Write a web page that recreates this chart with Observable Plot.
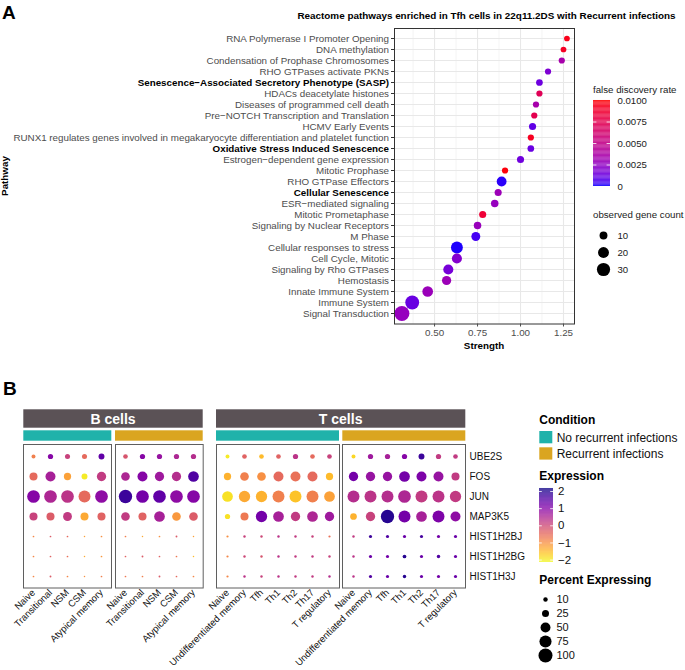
<!DOCTYPE html>
<html><head><meta charset="utf-8">
<script src="https://cdn.jsdelivr.net/npm/d3@7"></script>
<script src="https://cdn.jsdelivr.net/npm/@observablehq/plot@0.6"></script>
<style>
body{margin:0;background:#fff;}
#root{position:relative;width:685px;height:670px;overflow:hidden;font-family:"Liberation Sans",Arial,Helvetica,sans-serif;}
#root svg{overflow:visible;background:transparent !important;position:absolute;}
</style></head><body><div id="root"></div>
<script>
const FONT = '"Liberation Sans", Arial, Helvetica, sans-serif';

// ---------------- Panel A data ----------------
const pathways = [
 "RNA Polymerase I Promoter Opening",
 "DNA methylation",
 "Condensation of Prophase Chromosomes",
 "RHO GTPases activate PKNs",
 "Senescence\u2212Associated Secretory Phenotype (SASP)",
 "HDACs deacetylate histones",
 "Diseases of programmed cell death",
 "Pre\u2212NOTCH Transcription and Translation",
 "HCMV Early Events",
 "RUNX1 regulates genes involved in megakaryocyte differentiation and platelet function",
 "Oxidative Stress Induced Senescence",
 "Estrogen\u2212dependent gene expression",
 "Mitotic Prophase",
 "RHO GTPase Effectors",
 "Cellular Senescence",
 "ESR\u2212mediated signaling",
 "Mitotic Prometaphase",
 "Signaling by Nuclear Receptors",
 "M Phase",
 "Cellular responses to stress",
 "Cell Cycle, Mitotic",
 "Signaling by Rho GTPases",
 "Hemostasis",
 "Innate Immune System",
 "Immune System",
 "Signal Transduction"
];
const strength = [1.27,1.25,1.24,1.16,1.11,1.11,1.09,1.08,1.07,1.06,1.06,1.00,0.91,0.89,0.87,0.85,0.78,0.75,0.74,0.63,0.63,0.58,0.57,0.46,0.37,0.31];
const fdr = [0.0095,0.0092,0.0035,0.0018,0.0013,0.0072,0.0035,0.0075,0.0010,0.0093,0.0012,0.0014,0.0098,0.0002,0.0030,0.0027,0.0085,0.0028,0.0005,0.0001,0.0020,0.0016,0.0030,0.0029,0.0012,0.0027];
const geneCount = [5,5,6,6,7,6,6,6,8,6,7,8,6,16,8,9,8,9,13,24,17,17,14,19,33,39];
const boldPathways = ["Senescence\u2212Associated Secretory Phenotype (SASP)","Oxidative Stress Induced Senescence","Cellular Senescence"];
const fdrTicks = [0, 0.0025, 0.005, 0.0075, 0.01];
const countLegend = [10, 20, 30];
const strengthTicks = [0.5, 0.75, 1.0, 1.25];
const strengthMinor = [0.375, 0.625, 0.875, 1.125];

// ---------------- Panel B data ----------------
const genes = ["UBE2S","FOS","JUN","MAP3K5","HIST1H2BJ","HIST1H2BG","HIST1H3J"];
const bCellTypes = ["Naive","Transitional","NSM","CSM","Atypical memory"];
const tCellTypes = ["Naive","Undifferentiated memory","Tfh","Th1","Th2","Th17","T regulatory"];
const conditions = ["No recurrent infections","Recurrent infections"];
const conditionColors = ["#20B2AA","#DAA520"];
const exprTicks = [-2,-1,0,1,2];
const pctLegend = [10,25,50,75,100];

const exprBNo = [
 [-0.8, 1.0, 0.1,-0.5, 1.4],
 [-0.5, 0.6,-1.2,-2.0, 0.2],
 [ 1.0, 0.5, 0.3,-0.5, 0.9],
 [ 0.1,-0.3, 0.2,-1.3,-0.4],
 [-0.9,-0.3,-0.5,-1.2,-1.0],
 [-0.9,-0.4,-0.6,-1.3,-1.1],
 [-0.9,-0.3,-0.9,-1.0,-0.8]];
const pctBNo = [
 [8,14,13,13,18],
 [33,51,27,18,44],
 [82,82,82,73,82],
 [33,33,40,33,33],
 [1.5,1.5,1.5,1.2,1.5],
 [1.5,1.5,1.5,1.2,1.5],
 [1.5,1.8,1.5,1.2,1.5]];
const exprBRec = [
 [-0.2, 1.0, 0.8, 0.5, 0.4],
 [ 0.5, 1.0, 0.7, 0.4, 1.6],
 [ 1.8, 1.2, 1.4, 0.9, 1.0],
 [ 0.2,-0.4, 0.6,-1.1,-0.3],
 [-0.8,-1.3,-1.0,-0.3,-1.2],
 [-0.4,-0.3,-0.4,-0.7,-1.5],
 [-0.7,-0.8,-0.3,-0.5,-0.9]];
const pctBRec = [
 [11,14,14,14,14],
 [38,51,44,44,58],
 [91,82,82,82,82],
 [38,33,58,38,38],
 [1.5,1.2,1.5,1.8,1.2],
 [1.5,1.8,1.5,1.5,1.2],
 [1.5,1.5,1.8,1.5,1.5]];
const exprTNo = [
 [-2.0,-0.4,-1.5,-0.4, 0.3,-0.5, 0.1],
 [-1.4,-0.8,-1.0,-0.5,-0.6,-0.5,-1.5],
 [-1.9,-1.3,-1.4,-0.8,-1.6,-0.8,-1.2],
 [-1.9,-0.7, 1.2, 0.6, 0.2, 0.5, 0.7],
 [-1.0, 0.1, 0.0, 0.3, 0.2, 0.1,-0.6],
 [-0.9, 0.0,-0.2, 0.3, 0.2, 0.2, 0.1],
 [-0.9, 0.3, 0.1, 0.3, 0.2, 0.2, 0.4]];
const pctTNo = [
 [8,11,11,11,14,11,11],
 [27,38,38,51,51,51,27],
 [58,65,65,73,73,73,58],
 [14,33,65,58,44,58,44],
 [2.5,3,3,3,3,3,2.5],
 [2.5,3,3,3,3,3,3],
 [2.5,3,3,3,3,3,3]];
const exprTRec = [
 [-1.8, 0.7, 0.6, 1.0, 1.8, 0.2, 0.2],
 [ 1.2, 0.8, 0.8, 1.2, 1.1, 0.8, 0.2],
 [ 0.4, 0.3, 0.4, 0.5, 0.2, 0.3, 0.2],
 [-1.4, 0.1, 2.0, 1.2, 0.6, 1.1, 0.9],
 [ 0.2, 1.8, 1.6, 1.3, 1.7, 1.2, 1.3],
 [ 0.3, 1.3, 1.2, 2.0, 1.3, 1.6, 1.3],
 [ 0.3, 1.6, 1.3, 2.0, 1.3, 1.2, 1.3]];
const pctTRec = [
 [8,14,14,14,18,14,11],
 [44,44,44,58,51,51,33],
 [73,73,73,82,73,73,65],
 [23,44,90,73,58,73,51],
 [3,5,5,5,5,5,5],
 [3,5,5,7,5,6,5],
 [3,5,5,6,5,5,5]];

const root = document.getElementById("root");
function place(el, left, top){ el.style.left = left+"px"; el.style.top = top+"px"; root.appendChild(el); return el; }
const baseStyle = {background:"transparent", overflow:"visible", fontFamily:FONT};

// ---------------- Panel A ----------------
const colorA = {type:"linear", domain:[0,0.01], range:["blue","red"], interpolate:"lab"};
const rA = {type:"sqrt", domain:[4,40], range:[2.6,7.6]};
const rowsA = pathways.map((p,i)=>({pathway:p, strength:strength[i], fdr:fdr[i], count:geneCount[i]}));
const plotA = Plot.plot({
  width:685, height:360,
  marginLeft:394, marginRight:111, marginTop:28, marginBottom:36.5,
  style:baseStyle,
  x:{domain:[0.267,1.314]},
  y:{type:"point", domain:pathways, padding:0.55},
  color:colorA, r:rA,
  marks:[
    Plot.gridX({ticks:strengthMinor, stroke:"#EDEDED", strokeOpacity:1, strokeWidth:0.6}),
    Plot.gridX({ticks:strengthTicks, stroke:"#E8E8E8", strokeOpacity:1, strokeWidth:1.1}),
    Plot.gridY({stroke:"#E8E8E8", strokeOpacity:1, strokeWidth:1.1}),
    Plot.dot(rowsA, {x:"strength", y:"pathway", r:"count", fill:"fdr"}),
    Plot.frame({stroke:"#333", strokeWidth:1}),
    Plot.axisX({ticks:strengthTicks, tickSize:3, tickPadding:2, tickFormat:d3.format(".2f"), fontSize:9.8, color:"#4D4D4D", label:null}),
    Plot.axisY({tickSize:3, tickFormat:()=>"", label:null, color:"#333"}),
    Plot.text(pathways.filter(p=>!boldPathways.includes(p)), {y:d=>d, text:d=>d, frameAnchor:"left", textAnchor:"end", dx:-5.5, fontSize:9.8, fill:"#4D4D4D"}),
    Plot.text(boldPathways, {y:d=>d, text:d=>d, frameAnchor:"left", textAnchor:"end", dx:-5.5, fontSize:9.8, fill:"#000", fontWeight:"bold"})
  ]
});
place(plotA, 0, 0);

// Panel A colour bar
{
  const n = 100, lo = 0, hi = 0.01, st = (hi-lo)/n;
  const steps = d3.range(n).map(i => lo + st*i);
  const mt = 4, mb = 4, h = 86;
  const leg = Plot.plot({
    width:70, height:h+mt+mb, marginLeft:0, marginRight:53, marginTop:mt, marginBottom:mb,
    style:baseStyle,
    x:{domain:[0,1], axis:null}, y:{domain:[lo,hi]}, color:colorA,
    marks:[
      Plot.rect(steps, {x1:()=>0, x2:()=>1, y1:d=>d, y2:d=>d+st*1.02, fill:d=>d+st/2}),
      Plot.ruleY(fdrTicks.slice(1,-1), {x1:()=>0, x2:()=>0.2, stroke:"white", strokeWidth:0.8}),
      Plot.ruleY(fdrTicks.slice(1,-1), {x1:()=>0.8, x2:()=>1, stroke:"white", strokeWidth:0.8}),
      Plot.axisY({anchor:"right", ticks:fdrTicks, tickSize:0, tickPadding:7, tickFormat:d=>d===0?"0":d.toFixed(4), fontSize:9.6, color:"#1a1a1a", label:null})
    ]
  });
  place(leg, 593, 100-mt);
}
// Panel A size legend
{
  const mt = 2, mb = 2, h = 35;
  const leg = Plot.plot({
    width:60, height:h+mt+mb, marginLeft:10, marginRight:30, marginTop:mt, marginBottom:mb,
    style:baseStyle,
    y:{type:"point", domain:countLegend, padding:0, axis:null}, r:rA,
    marks:[
      Plot.dot(countLegend, {y:d=>d, r:d=>d, frameAnchor:"left", fill:"black"}),
      Plot.text(countLegend, {y:d=>d, text:d=>String(d), frameAnchor:"left", dx:14, textAnchor:"start", fontSize:9.6, fill:"#1a1a1a"})
    ]
  });
  place(leg, 593, 234-mt);
}

// ---------------- Panel B ----------------
const colorB = {type:"linear", scheme:"plasma", reverse:true, domain:[-2.14,2.175]};
const rB = {type:"sqrt", domain:[0,100], range:[0,7]};
const panelTopB = 444, panelHB = 143.5;
function panelB(cols, expr, pct, left, width, withGenes){
  const data = genes.flatMap((g,i)=>cols.map((c,j)=>({gene:g, cell:c, expr:expr[i][j], pct:pct[i][j]})));
  const ml=100, mr=withGenes?62:2, mt=2, mb=80;
  const marks = [
    Plot.frame({stroke:"#5f5f5f", strokeWidth:1}),
    Plot.dot(data, {x:"cell", y:"gene", r:"pct", fill:"expr"}),
    Plot.axisX({tickRotate:-45, tickSize:0, tickPadding:3, fontSize:9.5, color:"#111", label:null})
  ];
  if (withGenes) marks.push(Plot.axisY({anchor:"right", tickSize:0, tickPadding:4, fontSize:10, color:"#111", label:null}));
  const p = Plot.plot({
    width:width+ml+mr, height:panelHB+mt+mb, marginLeft:ml, marginRight:mr, marginTop:mt, marginBottom:mb,
    style:baseStyle,
    x:{type:"point", domain:cols, padding:0.5},
    y:{type:"point", domain:genes, padding:0.5, ...(withGenes?{}:{axis:null})},
    color:colorB, r:rB,
    marks
  });
  place(p, left-ml, panelTopB-mt);
}
panelB(bCellTypes, exprBNo, pctBNo, 23.3, 88, false);
panelB(bCellTypes, exprBRec, pctBRec, 115, 87.7, false);
panelB(tCellTypes, exprTNo, pctTNo, 216, 123, false);
panelB(tCellTypes, exprTRec, pctTRec, 342.3, 123, true);

// Panel B colour bar
{
  const n = 120, lo = -2.14, hi = 2.175, st = (hi-lo)/n;
  const steps = d3.range(n).map(i => lo + st*i);
  const mt = 4, mb = 4, h = 74;
  const leg = Plot.plot({
    width:60, height:h+mt+mb, marginLeft:0, marginRight:46, marginTop:mt, marginBottom:mb,
    style:baseStyle,
    x:{domain:[0,1], axis:null}, y:{domain:[lo,hi]}, color:colorB,
    marks:[
      Plot.rect(steps, {x1:()=>0, x2:()=>1, y1:d=>d, y2:d=>d+st*1.02, fill:d=>d+st/2}),
      Plot.ruleY(exprTicks, {x1:()=>0, x2:()=>0.2, stroke:"white", strokeWidth:0.8}),
      Plot.ruleY(exprTicks, {x1:()=>0.8, x2:()=>1, stroke:"white", strokeWidth:0.8}),
      Plot.axisY({anchor:"right", ticks:exprTicks, tickSize:0, tickPadding:4.5, tickFormat:d=>d<0?"\u2212"+Math.abs(d):String(d), fontSize:11.5, color:"#111", label:null})
    ]
  });
  place(leg, 539, 487.7-mt);
}
// Panel B size legend
{
  const mt = 2, mb = 2, h = 59;
  const leg = Plot.plot({
    width:60, height:h+mt+mb, marginLeft:6, marginRight:30, marginTop:mt, marginBottom:mb,
    style:baseStyle,
    y:{type:"point", domain:pctLegend, padding:0, axis:null}, r:rB,
    marks:[
      Plot.dot(pctLegend, {y:d=>d, r:d=>d, frameAnchor:"left", fill:"black"}),
      Plot.text(pctLegend, {y:d=>d, text:d=>String(d), frameAnchor:"left", dx:11, textAnchor:"start", fontSize:11, fill:"#111"})
    ]
  });
  place(leg, 539, 597-mt);
}

// ---------------- Overlay: titles, strips, legend titles ----------------
const ov = d3.create("svg").attr("width",685).attr("height",670).style("left","0px").style("top","0px")
  .style("font-family",FONT).style("pointer-events","none");
ov.append("text").attr("x",2).attr("y",18.5).attr("font-size",19).attr("font-weight","bold").text("A");
ov.append("text").attr("x",486.5).attr("y",18.5).attr("font-size",9.9).attr("font-weight","bold").attr("text-anchor","middle")
  .text("Reactome pathways enriched in Tfh cells in 22q11.2DS with Recurrent infections");
ov.append("text").attr("transform","translate(7.5,176) rotate(-90)").attr("font-size",9.8).attr("font-weight","bold").attr("text-anchor","middle").text("Pathway");
ov.append("text").attr("x",484).attr("y",348.5).attr("font-size",9.8).attr("font-weight","bold").attr("text-anchor","middle").text("Strength");
ov.append("text").attr("x",593).attr("y",92.5).attr("font-size",9.7).attr("fill","#1a1a1a").text("false discovery rate");
ov.append("text").attr("x",593).attr("y",217.5).attr("font-size",9.7).attr("fill","#1a1a1a").text("observed gene count");

ov.append("text").attr("x",3).attr("y",395).attr("font-size",19).attr("font-weight","bold").text("B");
// strips
const groups = [{name:"B cells", x0:23.3, x1:202.7, p:[[23.3,111.3],[115,202.7]]},{name:"T cells", x0:216, x1:465.3, p:[[216,339],[342.3,465.3]]}];
groups.forEach(g=>{
  ov.append("rect").attr("x",g.x0).attr("y",409.3).attr("width",g.x1-g.x0).attr("height",18.4).attr("fill","#5B5256");
  ov.append("text").attr("x",(g.x0+g.x1)/2).attr("y",418.5).attr("dy","0.36em").attr("text-anchor","middle")
    .attr("font-size",14).attr("font-weight","bold").attr("fill","white").text(g.name);
  g.p.forEach((pp,i)=>{
    ov.append("rect").attr("x",pp[0]).attr("y",430.3).attr("width",pp[1]-pp[0]).attr("height",10.4).attr("fill",conditionColors[i]);
  });
});
// legends B
ov.append("text").attr("x",539.3).attr("y",423.5).attr("font-size",12).attr("font-weight","bold").text("Condition");
conditions.forEach((c,i)=>{
  const y = 431 + i*16.3;
  ov.append("rect").attr("x",539.3).attr("y",y).attr("width",13).attr("height",12.3).attr("fill",conditionColors[i]);
  ov.append("text").attr("x",556.7).attr("y",y+6.2).attr("dy","0.36em").attr("font-size",12).attr("fill","#111").text(c);
});
ov.append("text").attr("x",539.3).attr("y",480.3).attr("font-size",12).attr("font-weight","bold").text("Expression");
ov.append("text").attr("x",539.3).attr("y",583.5).attr("font-size",12).attr("font-weight","bold").text("Percent Expressing");
root.appendChild(ov.node());
</script></body></html>
